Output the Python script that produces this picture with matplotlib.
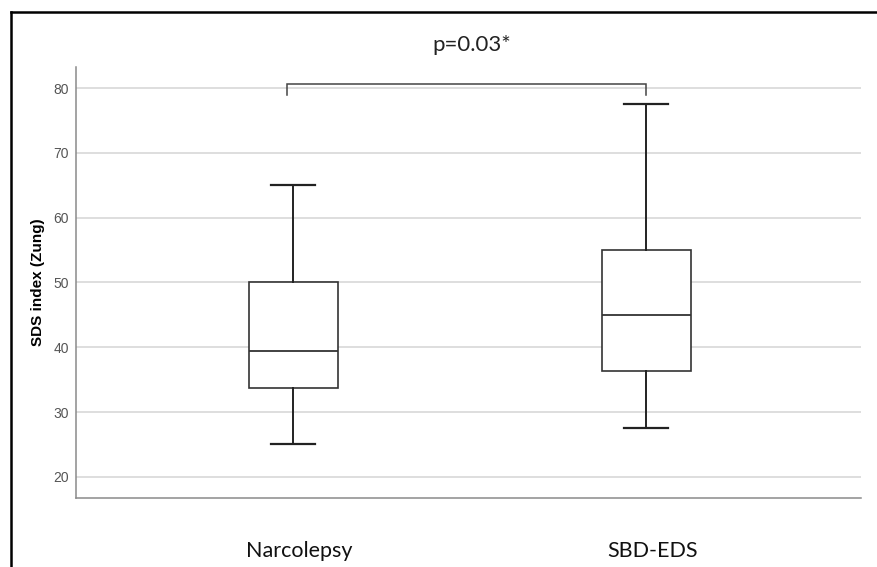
import matplotlib.pyplot as plt
from matplotlib.lines import Line2D

groups = ["Narcolepsy", "SBD-EDS"]
medians = [39.4, 45.0]
q1 = [33.7, 36.3]
q3 = [50.0, 55.0]
whisker_low = [25.1, 27.5]
whisker_high = [65.0, 77.5]
y_ticks = [20, 30, 40, 50, 60, 70, 80]
p_label = "p=0.03*"

stats = [
    {"med": m, "q1": a, "q3": b, "whislo": lo, "whishi": hi, "fliers": [], "label": g}
    for g, m, a, b, lo, hi in zip(groups, medians, q1, q3, whisker_low, whisker_high)
]

fig = plt.figure(figsize=(8.78, 5.67), dpi=100)
ax = fig.add_axes([76 / 878, 1 - 498 / 567, (861 - 76) / 878, (498 - 67) / 567])

ax.set_ylim(16.76, 83.24)
ax.set_xlim(0.385, 2.609)
ax.set_yticks(y_ticks)
ax.yaxis.grid(True, color="#d4d4d4", linewidth=1.1)
ax.set_axisbelow(True)

box_color = "#333333"
ax.bxp(
    stats,
    positions=[1, 2],
    widths=0.252,
    showfliers=False,
    patch_artist=True,
    boxprops=dict(facecolor="white", edgecolor=box_color, linewidth=1.2),
    medianprops=dict(color=box_color, linewidth=1.3),
    whiskerprops=dict(color="#222222", linewidth=1.4),
    capprops=dict(color="#222222", linewidth=1.6),
    capwidths=0.125,
)

ax.set_xticks([])
for side in ("top", "right"):
    ax.spines[side].set_visible(False)
for side in ("left", "bottom"):
    ax.spines[side].set_color("#8a8a8a")
    ax.spines[side].set_linewidth(1.1)
ax.tick_params(axis="y", length=0, pad=5, labelsize=10, labelcolor="#555555")
for lab in ax.get_yticklabels():
    lab.set_fontfamily("Liberation Sans")
ax.set_ylabel("SDS index (Zung)", fontsize=11, fontweight="bold",
              fontfamily="Liberation Sans", labelpad=6)

# significance bracket
ax.plot([0.983, 0.983, 2.0, 2.0], [78.9, 80.6, 80.6, 78.9],
        color="#444444", linewidth=1.1, solid_joinstyle="miter")
fig.text(472 / 878, 1 - 45 / 567, p_label, ha="center", va="center",
         fontsize=16, fontfamily="Lato", color="#222222")

# category labels placed below the axis like the original
for g, xc in zip(groups, [299, 653]):
    fig.text(xc / 878, 1 - 551 / 567, g, ha="center", va="center",
             fontsize=15.5, fontfamily="Lato", color="#111111")

# outer frame (cropped on the right and bottom)
fig.add_artist(Line2D([11 / 878, 11 / 878], [0, 1 - 12 / 567],
                      transform=fig.transFigure, color="black", linewidth=1.8))
fig.add_artist(Line2D([11 / 878, 1], [1 - 12 / 567, 1 - 12 / 567],
                      transform=fig.transFigure, color="black", linewidth=1.8))

fig.savefig("out.png", dpi=100)
